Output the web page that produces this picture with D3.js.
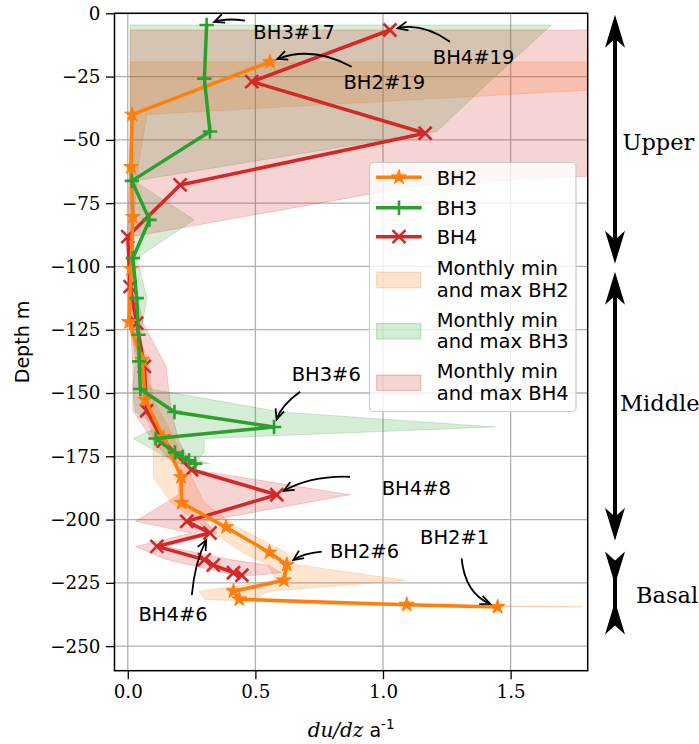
<!DOCTYPE html>
<html><head><meta charset="utf-8">
<script src="https://cdn.jsdelivr.net/npm/d3@7"></script>
<style>body{margin:0;background:#fff}svg{display:block}</style>
</head><body>
<svg id="chart" width="699" height="744"></svg>
<script>
// Strain-rate profiles du/dz (a^-1) against depth for three boreholes.
// Points are listed top to bottom; sensor #n counts from the bed upward.
const bh2Depth = [-19.2, -40, -60.7, -80.4, -101, -122, -137, -152.7, -167.5, -183.2, -193.4, -203, -213, -217.8, -224, -228.3, -231.5, -233.6, -234.5];
const bh2Rate  = [0.557, 0.017, 0.013, 0.02, 0.013, 0.005, 0.057, 0.068, 0.14, 0.209, 0.211, 0.385, 0.555, 0.623, 0.612, 0.414, 0.437, 1.093, 1.449];
const bh2Min   = [0.01, 0.01, 0.005, 0.005, 0.005, 0.0, 0.04, 0.05, 0.1, 0.1, 0.17, 0.3, 0.45, 0.55, 0.58, 0.28, 0.3, 0.8, 1.3];
const bh2Max   = [3.8, 0.075, 0.04, 0.025, 0.02, 0.02, 0.08, 0.1, 0.18, 0.25, 0.3, 0.43, 0.62, 0.66, 1.09, 0.55, 0.5, 1.2, 1.78];

const bh3Depth = [-4.6, -25.8, -46.7, -66.2, -81.6, -96.7, -112.5, -127, -137.5, -148.4, -157.5, -163.4, -168, -173.5, -175.3, -176.6, -177.9];
const bh3Rate  = [0.309, 0.30, 0.322, 0.016, 0.085, 0.02, 0.035, 0.042, 0.045, 0.049, 0.183, 0.573, 0.109, 0.185, 0.215, 0.24, 0.264];
const bh3Min   = [0.01, 0.01, 0.01, 0.01, 0.01, 0.01, 0.02, 0.02, 0.03, 0.02, 0.03, 0.12, 0.02, 0.12, 0.15, 0.18, 0.2];
const bh3Max   = [1.66, 1.43, 1.21, 0.025, 0.26, 0.035, 0.075, 0.05, 0.06, 0.09, 0.6, 1.44, 0.3, 0.3, 0.28, 0.28, 0.32];

const bh4Depth = [-6.6, -27, -47.4, -67.8, -88.2, -108, -122.4, -139.5, -157, -169, -180.3, -190.2, -200.7, -205.3, -210.6, -215.8, -218, -221, -222];
const bh4Rate  = [1.027, 0.486, 1.165, 0.205, 0.0, 0.009, 0.035, 0.065, 0.074, 0.139, 0.25, 0.584, 0.231, 0.322, 0.114, 0.3, 0.335, 0.414, 0.447];
const bh4Min   = [0.01, 0.01, 0.01, 0.005, 0.0, 0.0, 0.01, 0.02, 0.02, 0.1, 0.2, 0.2, 0.03, 0.25, 0.03, 0.15, 0.25, 0.38, 0.42];
const bh4Max   = [4.0, 4.0, 5.0, 1.15, 0.02, 0.03, 0.06, 0.15, 0.17, 0.2, 0.26, 0.87, 0.3, 0.35, 0.15, 0.4, 0.55, 0.6, 0.5];

const xTicks = [0, 0.5, 1.0, 1.5];
const xTickLabels = ['0.0', '0.5', '1.0', '1.5'];
const yTicks = [0, -25, -50, -75, -100, -125, -150, -175, -200, -225, -250];

// Ice column zones (m)
const zoneNames  = ['Upper', 'Middle', 'Basal'];
const zoneTop    = [0, -101.5, -212];
const zoneBottom = [-99.5, -209, -246];

// Sensor call-outs: label, borehole, sensor number, text anchor and arrow start (data coords)
const notes = [
  {text: 'BH3#17', bh: 'BH3', num: 17, tx: 0.492, ty: -10.2, ax: 0.459, ay: -2.9, rad: 0.13},
  {text: 'BH2#19', bh: 'BH2', num: 19, tx: 0.845, ty: -30.0, ax: 0.877, ay: -21.1, rad: 0.23},
  {text: 'BH4#19', bh: 'BH4', num: 19, tx: 1.195, ty: -20.1, ax: 1.262, ay: -11.2, rad: 0.22},
  {text: 'BH3#6',  bh: 'BH3', num: 6,  tx: 0.642, ty: -145.2, ax: 0.675, ay: -149.5, rad: 0.16},
  {text: 'BH4#8',  bh: 'BH4', num: 8,  tx: 0.995, ty: -190.3, ax: 0.871, ay: -183.1, rad: 0.14},
  {text: 'BH4#6',  bh: 'BH4', num: 6,  tx: 0.042, ty: -240.0, ax: 0.251, ay: -229.8, rad: -0.1},
  {text: 'BH2#6',  bh: 'BH2', num: 6,  tx: 0.792, ty: -215.1, ax: 0.76, ay: -212.7, rad: 0.13},
  {text: 'BH2#1',  bh: 'BH2', num: 1,  tx: 1.145, ty: -209.7, ax: 1.308, ay: -215.3, rad: 0.3}
];

const series = [
  {name: 'BH2', color: '#ff7f0e', marker: 'star', depth: bh2Depth, rate: bh2Rate, lo: bh2Min, hi: bh2Max},
  {name: 'BH3', color: '#2ca02c', marker: 'plus', depth: bh3Depth, rate: bh3Rate, lo: bh3Min, hi: bh3Max},
  {name: 'BH4', color: '#d62728', marker: 'cross', depth: bh4Depth, rate: bh4Rate, lo: bh4Min, hi: bh4Max}
];

const SANS = "'DejaVu Sans', sans-serif";
const SERIF = "'DejaVu Serif', serif";

const svg = d3.select('#chart');
const L = 114.5, R = 587.7, T = 13.3, B = 670.7;
const x = d3.scaleLinear().domain([-0.052, 1.802]).range([L, R]);
const y = d3.scaleLinear().domain([0, -259.7]).range([T, B]);

svg.append('defs').append('clipPath').attr('id', 'plotclip')
  .append('rect').attr('x', L).attr('y', T).attr('width', R - L).attr('height', B - T);

// grid
const grid = svg.append('g');
grid.selectAll('.gx').data(xTicks).join('line')
  .attr('x1', d => x(d)).attr('x2', d => x(d)).attr('y1', T).attr('y2', B)
  .attr('stroke', '#b0b0b0').attr('stroke-width', 1.3);
grid.selectAll('.gy').data(yTicks).join('line')
  .attr('y1', d => y(d)).attr('y2', d => y(d)).attr('x1', L).attr('x2', R)
  .attr('stroke', '#b0b0b0').attr('stroke-width', 1.3);

const plot = svg.append('g').attr('clip-path', 'url(#plotclip)');

// min/max envelopes
const band = d3.area().y(d => y(d.d)).x0(d => x(d.lo)).x1(d => x(d.hi));
series.forEach(s => {
  const rows = s.depth.map((d, i) => ({d, lo: s.lo[i], hi: s.hi[i]}));
  plot.append('path').datum(rows).attr('d', band)
    .attr('fill', s.color).attr('fill-opacity', 0.2)
    .attr('stroke', s.color).attr('stroke-opacity', 0.2).attr('stroke-width', 1);
});

// marker shapes
function starPath(r) {
  const pts = [];
  for (let k = 0; k < 10; k++) {
    const rr = k % 2 === 0 ? r : r * 0.381966;
    const a = -Math.PI / 2 + k * Math.PI / 5;
    pts.push([rr * Math.cos(a), rr * Math.sin(a)]);
  }
  return 'M' + pts.map(p => p[0].toFixed(2) + ',' + p[1].toFixed(2)).join('L') + 'Z';
}
function drawMarker(g, type, color, cx, cy) {
  if (type === 'star') {
    g.append('path').attr('d', starPath(7.8)).attr('transform', `translate(${cx},${cy})`)
      .attr('fill', color).attr('stroke', color).attr('stroke-width', 1);
  } else if (type === 'plus') {
    const h = 7.2;
    g.append('path').attr('d', `M${cx - h},${cy}H${cx + h}M${cx},${cy - h}V${cy + h}`)
      .attr('stroke', color).attr('stroke-width', 2.6).attr('fill', 'none');
  } else {
    const h = 6.5;
    g.append('path').attr('d', `M${cx - h},${cy - h}L${cx + h},${cy + h}M${cx - h},${cy + h}L${cx + h},${cy - h}`)
      .attr('stroke', color).attr('stroke-width', 2.6).attr('fill', 'none');
  }
}

const line = d3.line().x(d => x(d.r)).y(d => y(d.d));
const drawOrder = [series[2], series[0], series[1]];
drawOrder.forEach(s => {
  const rows = s.depth.map((d, i) => ({d, r: s.rate[i]}));
  const g = plot.append('g');
  g.append('path').datum(rows).attr('d', line)
    .attr('fill', 'none').attr('stroke', s.color).attr('stroke-width', 3.5)
    .attr('stroke-linejoin', 'round').attr('stroke-linecap', 'round');
  rows.forEach(p => drawMarker(g, s.marker, s.color, x(p.r), y(p.d)));
});

// frame
svg.append('rect').attr('x', L).attr('y', T).attr('width', R - L).attr('height', B - T)
  .attr('fill', 'none').attr('stroke', '#000').attr('stroke-width', 1.5);

// axes
const yAxis = d3.axisLeft(y).tickValues(yTicks).tickSize(8.5).tickPadding(5.5)
  .tickFormat(d => d === 0 ? '0' : '\u2212' + Math.abs(d));
const gy = svg.append('g').attr('transform', `translate(${L},0)`).call(yAxis);
const xAxis = d3.axisBottom(x).tickValues(xTicks).tickSize(8.5).tickPadding(6)
  .tickFormat((d, i) => xTickLabels[i]);
const gx = svg.append('g').attr('transform', `translate(0,${B})`).call(xAxis);
[gx, gy].forEach(g => {
  g.select('.domain').remove();
  g.selectAll('.tick line').attr('stroke', '#000').attr('stroke-width', 1.3);
  g.selectAll('.tick text').attr('fill', '#000').style('font-family', SERIF).style('font-size', '18.3px');
});

// axis titles
svg.append('text').attr('transform', `translate(29,${(T + B) / 2}) rotate(-90)`)
  .attr('text-anchor', 'middle').style('font-family', SANS).style('font-size', '19px')
  .text('Depth m');
const xl = svg.append('text').attr('x', (L + R) / 2).attr('y', 736.5).attr('text-anchor', 'middle');
xl.append('tspan').style('font-family', SERIF).style('font-style', 'italic').style('font-size', '20px').text('du/dz');
xl.append('tspan').style('font-family', SANS).style('font-size', '19px').text(' a');
xl.append('tspan').style('font-family', SANS).style('font-size', '13.5px').attr('dy', -8).text('-1');

// call-outs
const lookup = {};
series.forEach(s => lookup[s.name] = s);
notes.forEach(n => {
  const s = lookup[n.bh];
  const i = s.depth.length - n.num;
  const px = x(s.rate[i]), py = y(s.depth[i]);
  const sx = x(n.ax), sy = y(n.ay);
  const dx = px - sx, dy = py - sy;
  const cx = (sx + px) / 2 - n.rad * dy, cy = (sy + py) / 2 + n.rad * dx;
  // shrink the end away from the marker
  let ux = px - cx, uy = py - cy; let ul = Math.hypot(ux, uy); ux /= ul; uy /= ul;
  const ex = px - ux * 8, ey = py - uy * 8;
  svg.append('path').attr('d', `M${sx},${sy}Q${cx},${cy} ${ex},${ey}`)
    .attr('fill', 'none').attr('stroke', '#000').attr('stroke-width', 1.8);
  let vx = ex - cx, vy = ey - cy; const vl = Math.hypot(vx, vy); vx /= vl; vy /= vl;
  const bx = ex - vx * 10, by = ey - vy * 10;
  svg.append('path')
    .attr('d', `M${bx - vy * 4.5},${by + vx * 4.5}L${ex},${ey}L${bx + vy * 4.5},${by - vx * 4.5}`)
    .attr('fill', 'none').attr('stroke', '#000').attr('stroke-width', 1.8).attr('stroke-linejoin', 'miter');
  svg.append('text').attr('x', x(n.tx)).attr('y', y(n.ty))
    .style('font-family', SANS).style('font-size', '19.5px').attr('fill', '#000').text(n.text);
});

// legend
const lg = svg.append('g');
lg.append('rect').attr('x', 369.5).attr('y', 162.5).attr('width', 206.5).attr('height', 249)
  .attr('rx', 4).attr('fill', '#fff').attr('fill-opacity', 0.8)
  .attr('stroke', '#cccccc').attr('stroke-width', 1.2);
const lineRows = [177.3, 207.7, 236.7];
series.forEach((s, k) => {
  const yy = lineRows[k];
  lg.append('line').attr('x1', 376).attr('x2', 421.7).attr('y1', yy).attr('y2', yy)
    .attr('stroke', s.color).attr('stroke-width', 3.5);
  drawMarker(lg, s.marker, s.color, 399, yy);
  lg.append('text').attr('x', 436.7).attr('y', yy + 7.6)
    .style('font-family', SANS).style('font-size', '19.5px').attr('fill', '#000').text(s.name);
});
const patchRows = [280, 331.2, 382.8];
series.forEach((s, k) => {
  const yy = patchRows[k];
  lg.append('rect').attr('x', 376.7).attr('y', yy - 7.7).attr('width', 44).attr('height', 15.4)
    .attr('fill', s.color).attr('fill-opacity', 0.2).attr('stroke', s.color).attr('stroke-opacity', 0.25).attr('stroke-width', 1.3);
  const t = lg.append('text').style('font-family', SANS).style('font-size', '19.5px').attr('fill', '#000');
  t.append('tspan').attr('x', 436.7).attr('y', yy - 4.7).text('Monthly min');
  t.append('tspan').attr('x', 436.7).attr('y', yy + 16.7).text('and max ' + s.name);
});

// zone arrows on the right
const AX = 615;
function headPath(tipY, dir) {
  // dir = +1 : head points up (tip at top), -1 : points down
  const len = 33, w = 10, notch = 24;
  return `M${AX},${tipY}L${AX + w},${tipY + dir * len}L${AX},${tipY + dir * notch}L${AX - w},${tipY + dir * len}Z`;
}
const labelDepth = [-50.6, -153.7, -229.7];
const labelX = [622.5, 620, 636];
zoneNames.forEach((z, k) => {
  const y1 = y(zoneTop[k]) + 1.5, y2 = y(zoneBottom[k]) - 1.5;
  svg.append('line').attr('x1', AX).attr('x2', AX).attr('y1', y1 + 20).attr('y2', y2 - 20)
    .attr('stroke', '#000').attr('stroke-width', 4);
  if (k < 2) {
    svg.append('path').attr('d', headPath(y1, 1)).attr('fill', '#000');
    svg.append('path').attr('d', headPath(y2, -1)).attr('fill', '#000');
  } else {
    // short zone: heads point inward
    svg.append('path').attr('d', headPath(y1 + 33, -1)).attr('fill', '#000');
    svg.append('path').attr('d', headPath(y2 - 33, 1)).attr('fill', '#000');
  }
  svg.append('text').attr('x', labelX[k]).attr('y', y(labelDepth[k]) + 8.5)
    .style('font-family', SERIF).style('font-size', '22.5px').attr('fill', '#000').text(z);
});
</script>
</body></html>
